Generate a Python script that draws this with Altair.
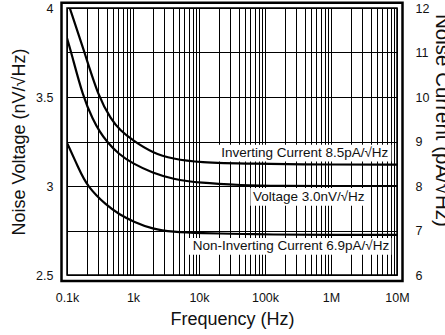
import altair as alt
import pandas as pd

# ---------------- data ----------------
# Inverting current noise (pA/rtHz)
inv_freq = [110, 185, 300, 470, 628, 1000, 2000, 4000, 10000, 57000, 1000000, 10000000]
inv_pa = [12.0, 11.0, 10.0, 9.49, 9.26, 9.02, 8.74, 8.61, 8.53, 8.50, 8.48, 8.48]

# Voltage noise (nV/rtHz)
volt_freq = [100, 116, 175, 248, 313, 400, 600, 1000, 2000, 4000, 10000, 50000,
             100000, 10000000]
volt_nv = [3.831, 3.75, 3.5, 3.372, 3.305, 3.25, 3.18, 3.125, 3.073, 3.039, 3.017,
           3.004, 3.0, 3.0]

# Non-inverting current noise (pA/rtHz)
ninv_freq = [100, 150, 200, 400, 628, 1000, 2000, 4000, 10000, 57000, 100000,
             1000000, 10000000]
ninv_pa = [8.97, 8.4, 8.0, 7.556, 7.36, 7.2, 7.03, 6.97, 6.94, 6.92, 6.91, 6.9, 6.9]

# Axis ticks / labels
x_label_vals = [100, 1000, 10000, 100000, 1000000, 10000000]
x_label_text = ["0.1k", "1k", "10k", "100k", "1M", "10M"]
yl_grid_vals = [2.5, 2.75, 3.0, 3.25, 3.5, 3.75, 4.0]
yl_label_vals = [2.5, 3.0, 3.5, 4.0]
yl_label_text = ["2.5", "3", "3.5", "4"]
yr_vals = [6, 7, 8, 9, 10, 11, 12]

# Curve annotations (positioned in left-axis units)
ann_text = ["Inverting Current 8.5pA/\u221aHz", "Voltage 3.0nV/\u221aHz",
            "Non-Inverting Current 6.9pA/\u221aHz"]
ann_f = [7.4e6, 4.6e5, 7.6e6]
ann_v = [3.187, 2.94, 2.662]
ann_align = ["right", "center", "right"]
box_f1 = [18400, 60000, 6400]
box_f2 = [8.2e6, 3.6e6, 8.2e6]
box_v1 = [3.138, 2.889, 2.614]
box_v2 = [3.232, 2.989, 2.708]

# ---------------- build ----------------
W, H = 330, 267
FONT = "Liberation Sans"

x_grid_vals = [m * 10 ** e for e in range(2, 7) for m in range(1, 10)] + [10 ** 7]
x_expr = " : ".join(f"datum.value == {v} ? '{t}'" for v, t in zip(x_label_vals, x_label_text)) + " : ''"
yl_expr = " : ".join(f"datum.value == {v} ? '{t}'" for v, t in zip(yl_label_vals, yl_label_text)) + " : ''"

x_scale = alt.Scale(type="log", domain=[100, 1e7])
yl_scale = alt.Scale(domain=[2.5, 4], nice=False, zero=False)
yr_scale = alt.Scale(domain=[6, 12], nice=False, zero=False)

df_v = pd.DataFrame({"f": volt_freq, "v": volt_nv})
df_c = pd.concat([
    pd.DataFrame({"f": inv_freq, "pa": inv_pa, "series": "inv"}),
    pd.DataFrame({"f": ninv_freq, "pa": ninv_pa, "series": "ninv"}),
])
df_ann = pd.DataFrame({"text": ann_text, "f": ann_f, "v": ann_v, "align": ann_align})
df_box = pd.DataFrame({"f1": box_f1, "f2": box_f2, "v1": box_v1, "v2": box_v2})

x_axis = alt.Axis(values=x_grid_vals, labelExpr=x_expr, grid=True, gridColor="#000",
                  gridWidth=1, ticks=False, domain=False, labelFont=FONT,
                  labelFontSize=12.5, labelColor="#111", labelPadding=16,
                  labelOverlap=False, labelFlush=False, labelBound=False,
                  title="Frequency (Hz)", titleFont=FONT, titleFontSize=18,
                  titleFontWeight="normal", titleColor="#111", titlePadding=7)
yl_axis = alt.Axis(orient="left", values=yl_grid_vals, labelExpr=yl_expr, grid=True,
                   gridColor="#000", gridWidth=1, ticks=False, domain=False,
                   labelFont=FONT, labelFontSize=12.5, labelColor="#111", labelPadding=14,
                   labelOverlap=False, labelFlush=False,
                   title="Noise Voltage (nV/\u221aHz)", titleFont=FONT, titleFontSize=18,
                   titleFontWeight="normal", titleColor="#111", titlePadding=7)
yr_axis = alt.Axis(orient="right", values=yr_vals, grid=False, ticks=False, domain=False,
                   labelFont=FONT, labelFontSize=12.5, labelColor="#111", labelPadding=18,
                   labelOverlap=False, labelFlush=False,
                   title="Noise Current (pA/\u221aHz)", titleFont=FONT, titleFontSize=20.5,
                   titleFontWeight="normal", titleColor="#111", titlePadding=3, titleY=112)


def X(field):
    return alt.X(field, scale=x_scale, axis=x_axis)


# grid + left axis carried by an invisible layer on the voltage data
axes_layer = alt.Chart(df_v).mark_point(opacity=0).encode(
    x=X("f:Q"),
    y=alt.Y("v:Q", scale=yl_scale, axis=yl_axis),
)

boxes = alt.Chart(df_box).mark_rect(color="white").encode(
    x=X("f1:Q"), x2="f2:Q",
    y=alt.Y("v1:Q", scale=yl_scale, axis=None), y2="v2:Q",
)

texts = [
    alt.Chart(df_ann[df_ann["align"] == a]).mark_text(
        align=a, baseline="middle", font=FONT, fontSize=13.5, color="#111"
    ).encode(
        x=X("f:Q"),
        y=alt.Y("v:Q", scale=yl_scale, axis=None),
        text="text:N",
    )
    for a in ["right", "center"]
]

volt_line = alt.Chart(df_v).mark_line(color="black", strokeWidth=2.2, interpolate="basis", clip=True).encode(
    x=X("f:Q"),
    y=alt.Y("v:Q", scale=yl_scale, axis=None),
)

cur_lines = alt.Chart(df_c).mark_line(color="black", strokeWidth=2.2, interpolate="basis", clip=True).encode(
    x=X("f:Q"),
    y=alt.Y("pa:Q", scale=yr_scale, axis=yr_axis),
    detail="series:N",
)

frame = alt.Chart(alt.Data(values=[{"a": 1}])).mark_rect(
    filled=False, stroke="black", strokeWidth=2.5, clip=False
).encode(x=alt.value(-5.5), x2=alt.value(W + 5.5), y=alt.value(-5.3), y2=alt.value(H + 6))

chart = alt.layer(axes_layer, boxes, *texts, volt_line, cur_lines, frame).resolve_scale(
    y="independent"
).properties(
    width=W, height=H,
    autosize=alt.AutoSizeParams(type="none"),
    padding={"left": 67, "top": 8, "right": 48, "bottom": 60},
    background="white",
).configure_view(stroke="black", strokeWidth=1.5)

chart.save("out.html", embed_options={"renderer": "svg", "actions": False})
